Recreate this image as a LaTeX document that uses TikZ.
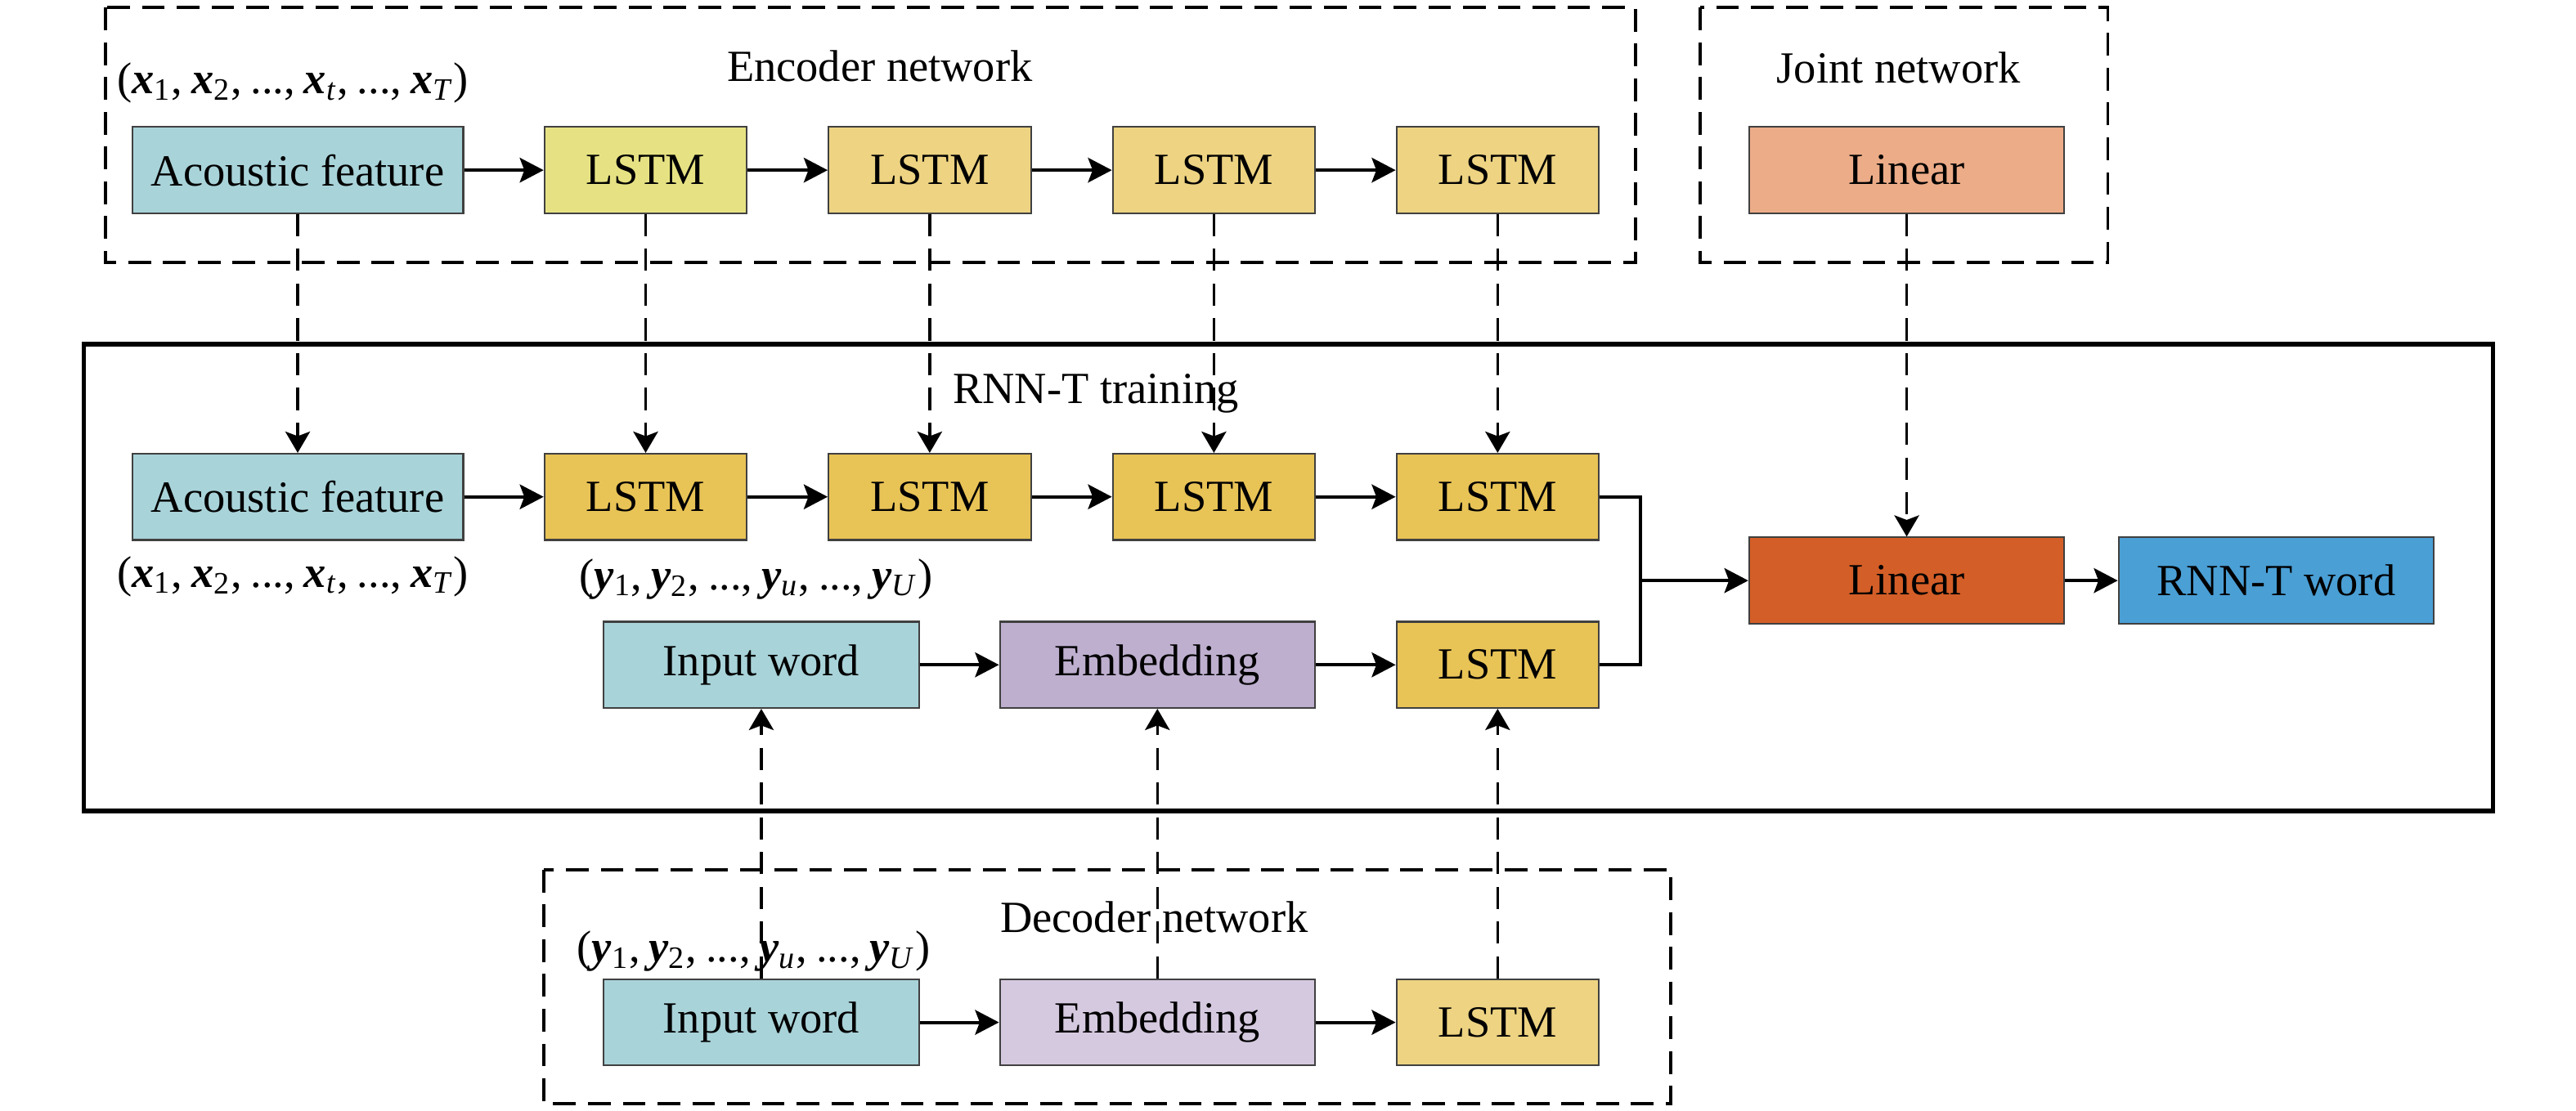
\documentclass[tikz,border=0pt]{standalone}
\usepackage{fontspec}
\setmainfont{Liberation Serif}
\usetikzlibrary{arrows.meta}
\newcommand\bvx{\textbf{\textit{x}}}
\newcommand\bvy{\textbf{\textit{y}}}
\newcommand\xseq{\spaceskip=0.2em\relax(\bvx\textsubscript{1}, \bvx\textsubscript{2}, ..., \bvx\textsubscript{\textit{t}}, ..., \bvx\textsubscript{\textit{T}})}
\newcommand\yseq{\spaceskip=0.2em\relax(\bvy\textsubscript{1}, \bvy\textsubscript{2}, ..., \bvy\textsubscript{\textit{u}}, ..., \bvy\textsubscript{\textit{U}})}
\definecolor{cblue}{HTML}{A8D3D9}
\definecolor{cyel}{HTML}{E6E283}
\definecolor{clstm}{HTML}{EDD382}
\definecolor{ctlstm}{HTML}{E8C356}
\definecolor{cemb}{HTML}{BEAFCF}
\definecolor{cdemb}{HTML}{D5C9E0}
\definecolor{cjlin}{HTML}{ECAC88}
\definecolor{ctlin}{HTML}{D45E27}
\definecolor{cword}{HTML}{4A9FD5}
\tikzset{
  blk/.style={draw=black!75, line width=0.6pt, inner sep=0pt, minimum height=1.055cm, text=black},
  wa/.style={blk, minimum width=4.05cm},
  wl/.style={blk, minimum width=2.475cm},
  wm/.style={blk, minimum width=3.855cm},
  stip/.tip={Stealth[length=8.3pt,width=8.6pt,inset=1.6pt]},
  dtip/.tip={Stealth[length=7.4pt,width=8.6pt,inset=1.6pt]},
  sarrow/.style={line width=1.1pt, -stip},
  sline/.style={line width=1.1pt},
  darrow/.style={line width=0.95pt, dash pattern=on 7.7pt off 4.4pt, -dtip},
  dbox/.style={line width=1.1pt, dash pattern=on 7.9pt off 4.2pt},
  tbox/.style={line width=1.6pt},
  lbl/.style={inner sep=0pt, text=black}
}
\begin{document}
\begin{tikzpicture}[x=0.020089cm, y=-0.020089cm, font=\fontsize{15.5}{18}\selectfont]
\useasboundingbox (0,0) rectangle (1568,676);

% group frames
\draw[dbox] (64,4.6) rectangle (995.6,159.8);
\draw[dbox] (1035,4.6) rectangle (1283,159.8);
\draw[tbox] (51,209.5) rectangle (1517.5,493.8);
\draw[dbox] (331,529.6) rectangle (1017,672);

% labels
\node[lbl, anchor=base west] (lx1) at (71,57) {\xseq};
\node[lbl, anchor=base] (lenc) at (535.5,49.4) {Encoder network};
\node[lbl, anchor=base] (ljoint) at (1155.7,50.5) {Joint network};
\node[lbl, anchor=base] (ltrain) at (667,245.6) {RNN-T training};
\node[lbl, anchor=base west] (lx2) at (71,357.5) {\xseq};
\node[lbl, anchor=base west] (ly1) at (352.4,359) {\yseq};
\node[lbl, anchor=base] (ldec) at (702.5,567.8) {Decoder network};
\node[lbl, anchor=base west] (ly2) at (351,585.7) {\yseq};

% encoder network
\node[wa, fill=cblue] (e0) at (181.2,103.6) {Acoustic feature};
\node[wl, fill=cyel] (e1) at (393,103.6) {LSTM};
\node[wl, fill=clstm] (e2) at (565.9,103.6) {LSTM};
\node[wl, fill=clstm] (e3) at (738.9,103.6) {LSTM};
\node[wl, fill=clstm] (e4) at (911.6,103.6) {LSTM};
% joint network
\node[wm, fill=cjlin] (jl) at (1160.6,103.6) {Linear};

% RNN-T training
\node[wa, fill=cblue] (t0) at (181.2,302.5) {Acoustic feature};
\node[wl, fill=ctlstm] (t1) at (393,302.5) {LSTM};
\node[wl, fill=ctlstm] (t2) at (565.9,302.5) {LSTM};
\node[wl, fill=ctlstm] (t3) at (738.9,302.5) {LSTM};
\node[wl, fill=ctlstm] (t4) at (911.6,302.5) {LSTM};
\node[wm, fill=cblue] (r0) at (463.4,404.8) {Input word};
\node[wm, fill=cemb] (r1) at (704.5,404.8) {Embedding};
\node[wl, fill=ctlstm] (r2) at (911.6,404.8) {LSTM};
\node[wm, fill=ctlin] (lin) at (1160.6,353.5) {Linear};
\node[wm, fill=cword] (word) at (1385.5,353.5) {RNN-T word};
\coordinate (jn) at (998.5,353.5);

% decoder network
\node[wm, fill=cblue] (d0) at (463.4,622.5) {Input word};
\node[wm, fill=cdemb] (d1) at (704.5,622.5) {Embedding};
\node[wl, fill=clstm] (d2) at (911.6,622.5) {LSTM};

% solid connectors
\draw[sarrow] (e0) -- (e1);
\draw[sarrow] (e1) -- (e2);
\draw[sarrow] (e2) -- (e3);
\draw[sarrow] (e3) -- (e4);
\draw[sarrow] (t0) -- (t1);
\draw[sarrow] (t1) -- (t2);
\draw[sarrow] (t2) -- (t3);
\draw[sarrow] (t3) -- (t4);
\draw[sarrow] (r0) -- (r1);
\draw[sarrow] (r1) -- (r2);
\draw[sarrow] (d0) -- (d1);
\draw[sarrow] (d1) -- (d2);
\draw[sline] (t4.east) -| (jn);
\draw[sline] (r2.east) -| (jn);
\draw[sarrow] (jn) -- (lin.west);
\draw[sarrow] (lin) -- (word);

% dashed connectors
\draw[darrow] (e0.south) -- (t0.north);
\draw[darrow] (e1.south) -- (t1.north);
\draw[darrow] (e2.south) -- (t2.north);
\draw[darrow] (e3.south) -- (t3.north);
\draw[darrow] (e4.south) -- (t4.north);
\draw[darrow] (jl.south) -- (lin.north);
\draw[darrow] (d0.north) -- (r0.south);
\draw[darrow] (d1.north) -- (r1.south);
\draw[darrow] (d2.north) -- (r2.south);
\end{tikzpicture}
\end{document}
